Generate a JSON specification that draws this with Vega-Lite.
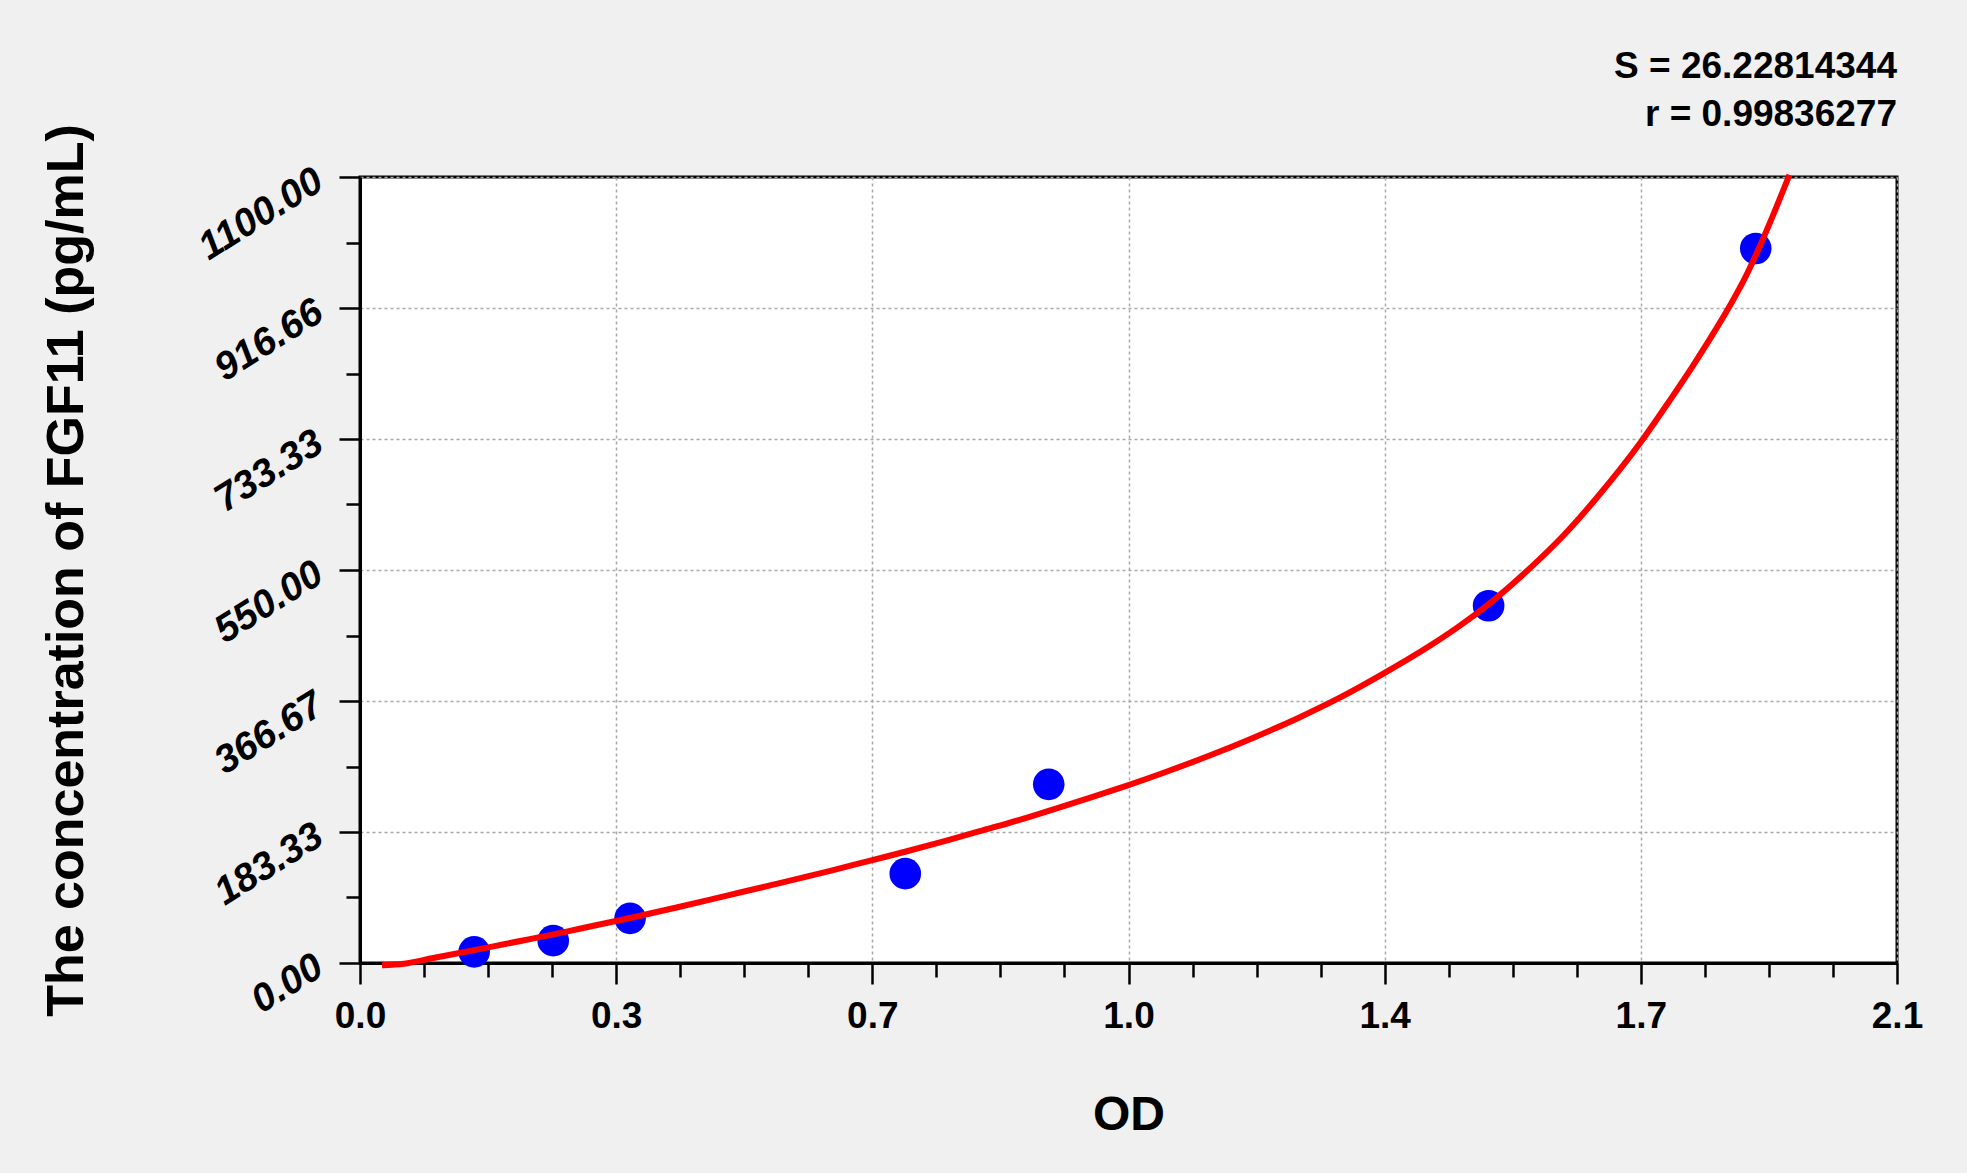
{
  "$schema": "https://vega.github.io/schema/vega-lite/v6.json",
  "autosize": "none",
  "width": 1537,
  "height": 786,
  "padding": {"left": 360, "top": 177, "right": 70, "bottom": 210},
  "background": "#f0f0f0",
  "title": {
    "text": "S = 26.22814344",
    "subtitle": "r = 0.99836277",
    "anchor": "end",
    "align": "right",
    "frame": "group",
    "font": "Liberation Sans",
    "fontSize": 37,
    "fontWeight": "bold",
    "color": "black",
    "subtitleFont": "Liberation Sans",
    "subtitleFontSize": 37,
    "subtitleFontWeight": "bold",
    "subtitleColor": "black",
    "subtitlePadding": 11,
    "offset": -10
  },
  "datasets": {
    "standards": [
      {"od": 0.156, "conc": 15.6},
      {"od": 0.264, "conc": 31.25},
      {"od": 0.369, "conc": 62.5},
      {"od": 0.745, "conc": 125},
      {"od": 0.941, "conc": 250},
      {"od": 1.542, "conc": 500},
      {"od": 1.907, "conc": 1000}
    ],
    "fit": [
      {"od": 0.03, "conc": -3},
      {"od": 0.06, "conc": -1},
      {"od": 0.1, "conc": 7},
      {"od": 0.156, "conc": 18},
      {"od": 0.2, "conc": 27},
      {"od": 0.264, "conc": 40},
      {"od": 0.3, "conc": 48},
      {"od": 0.369, "conc": 63},
      {"od": 0.434, "conc": 78},
      {"od": 0.5, "conc": 94},
      {"od": 0.566, "conc": 110},
      {"od": 0.6425, "conc": 129},
      {"od": 0.7, "conc": 144},
      {"od": 0.746, "conc": 156},
      {"od": 0.8, "conc": 171},
      {"od": 0.852, "conc": 186},
      {"od": 0.9, "conc": 200},
      {"od": 0.941, "conc": 213},
      {"od": 1.0, "conc": 232},
      {"od": 1.05, "conc": 249},
      {"od": 1.1, "conc": 267},
      {"od": 1.16, "conc": 290},
      {"od": 1.22, "conc": 315},
      {"od": 1.282, "conc": 343},
      {"od": 1.34, "conc": 372},
      {"od": 1.4, "conc": 406},
      {"od": 1.465, "conc": 446},
      {"od": 1.5, "conc": 470},
      {"od": 1.543, "conc": 503},
      {"od": 1.599, "conc": 553},
      {"od": 1.644, "conc": 598},
      {"od": 1.689, "conc": 650},
      {"od": 1.75, "conc": 729},
      {"od": 1.788, "conc": 785},
      {"od": 1.82, "conc": 834},
      {"od": 1.852, "conc": 886},
      {"od": 1.874, "conc": 924},
      {"od": 1.892, "conc": 958},
      {"od": 1.909, "conc": 995},
      {"od": 1.928, "conc": 1040},
      {"od": 1.953, "conc": 1103}
    ]
  },
  "layer": [
    {
      "data": {"name": "standards"},
      "mark": {"type": "point", "shape": "circle", "filled": true, "size": 1000, "color": "#0000ff", "opacity": 1, "strokeWidth": 0},
      "encoding": {
        "x": {
          "field": "od",
          "type": "quantitative",
          "scale": {"domain": [0, 2.1], "nice": false, "zero": false},
          "axis": {
            "title": "OD",
            "values": [0, 0.0875, 0.175, 0.2625, 0.35, 0.4375, 0.525, 0.6125, 0.7, 0.7875, 0.875, 0.9625, 1.05, 1.1375, 1.225, 1.3125, 1.4, 1.4875, 1.575, 1.6625, 1.75, 1.8375, 1.925, 2.0125, 2.1],
            "labelExpr": "round(datum.value / 0.0875) % 4 == 0 ? ['0.0', '0.3', '0.7', '1.0', '1.4', '1.7', '2.1'][round(datum.value / 0.35)] : ''",
            "tickSize": {"condition": {"test": "round(datum.value / 0.0875) % 4 == 0", "value": 21}, "value": 14},
            "gridOpacity": {"condition": {"test": "round(datum.value / 0.0875) % 4 == 0", "value": 1}, "value": 0},
            "labelFont": "Liberation Sans",
            "labelFontSize": 37,
            "labelPadding": 14,
            "titlePadding": 57
          }
        },
        "y": {
          "field": "conc",
          "type": "quantitative",
          "scale": {"domain": [0, 1100], "nice": false, "zero": false},
          "axis": {
            "title": "The concentration of FGF11 (pg/mL)",
            "values": [0, 45.833333, 91.666667, 137.5, 183.333333, 229.166667, 275, 320.833333, 366.666667, 412.5, 458.333333, 504.166667, 550, 595.833333, 641.666667, 687.5, 733.333333, 779.166667, 825, 870.833333, 916.666667, 962.5, 1008.333333, 1054.166667, 1100],
            "labelExpr": "round(datum.value / 45.833333) % 4 == 0 ? ['0.00', '183.33', '366.67', '550.00', '733.33', '916.66', '1100.00'][round(datum.value / 183.333333)] : ''",
            "tickSize": {"condition": {"test": "round(datum.value / 45.833333) % 4 == 0", "value": 21}, "value": 14},
            "gridOpacity": {"condition": {"test": "round(datum.value / 45.833333) % 4 == 0", "value": 1}, "value": 0},
            "labelFont": "Liberation Sans",
            "labelFontStyle": "italic",
            "labelFontSize": 39,
            "labelAngle": -32,
            "labelAlign": "right",
            "labelBaseline": "middle",
            "labelPadding": 20,
            "titlePadding": 98
          }
        }
      }
    },
    {
      "data": {"name": "fit"},
      "mark": {"type": "line", "color": "#ff0000", "strokeWidth": 6, "interpolate": "monotone"},
      "encoding": {
        "x": {"field": "od", "type": "quantitative"},
        "y": {"field": "conc", "type": "quantitative"}
      }
    }
  ],
  "config": {
    "view": {"fill": "white", "stroke": "black", "strokeWidth": 3},
    "axis": {
      "grid": true,
      "gridColor": "#a8a8a8",
      "gridDash": [3, 3],
      "gridWidth": 1.5,
      "domainColor": "black",
      "domainWidth": 3,
      "tickColor": "black",
      "tickWidth": 2.5,
      "labelColor": "black",
      "labelFontWeight": "bold",
      "labelOverlap": false,
      "labelFlush": false,
      "titleFont": "Liberation Sans",
      "titleFontWeight": "bold",
      "titleColor": "black",
      "titleFontSize": 48
    },
    "axisY": {"titleFontSize": 52}
  }
}
